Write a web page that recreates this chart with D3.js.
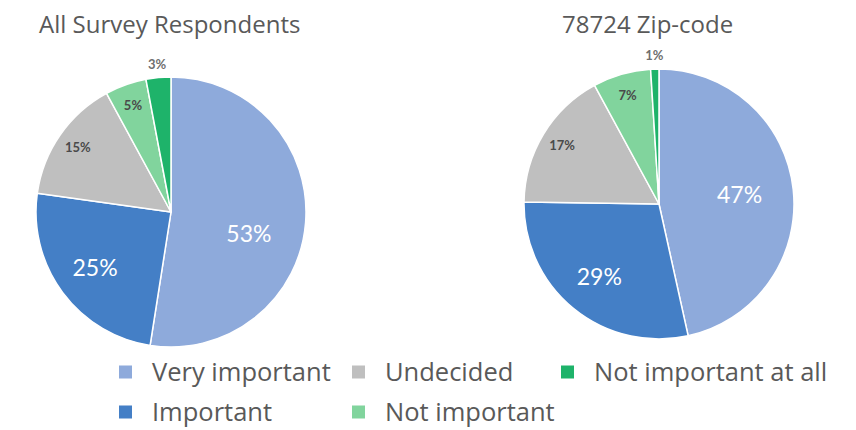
<!DOCTYPE html>
<html>
<head>
<meta charset="utf-8">
<script src="https://cdn.jsdelivr.net/npm/d3@7"></script>
<style>
  html, body { margin: 0; padding: 0; background: #fff; }
  svg { display: block; }
</style>
</head>
<body>
<svg id="chart" width="856" height="430"></svg>
<script>
// Response categories, in slice order (clockwise from 12 o'clock)
const categories = ["Very important", "Important", "Undecided", "Not important", "Not important at all"];
// Share of responses (%) for each group of respondents
const allRespondents = [53, 25, 15, 5, 3];
const zip78724 = [47, 29, 17, 7, 1];
const chartTitles = ["All Survey Respondents", "78724 Zip-code"];

const colors = d3.scaleOrdinal()
  .domain(categories)
  .range(["#8eaadb", "#447fc6", "#bfbfbf", "#81d49d", "#1eb36a"]);

const svg = d3.select("#chart");
const textColor = "#595959";

const pie = d3.pie().sort(null).value(d => d.value);
const radius = 135;
const arc = d3.arc().innerRadius(0).outerRadius(radius);

function drawPie(values, title, cx, cy, titleX) {
  const data = categories.map((c, i) => ({ category: c, value: values[i] }));
  const arcs = pie(data);

  svg.append("text")
    .attr("x", titleX)
    .attr("y", 33)
    .attr("font-family", "'Open Sans', sans-serif")
    .attr("font-size", 24)
    .attr("fill", textColor)
    .text(title);

  const g = svg.append("g").attr("transform", `translate(${cx},${cy})`);

  g.selectAll("path")
    .data(arcs)
    .join("path")
    .attr("d", arc)
    .attr("fill", d => colors(d.data.category))
    .attr("stroke", "#fff")
    .attr("stroke-width", 1.5)
    .attr("stroke-linejoin", "round");

  // Label placement: big slices get large white text, small slices
  // get small dark text near the rim, tiny slices sit just outside.
  g.selectAll("text.value")
    .data(arcs)
    .join("text")
    .attr("class", "value")
    .attr("transform", d => {
      const v = d.data.value;
      const f = v >= 40 ? 0.6 : v >= 20 ? 0.7 : v >= 4 ? 0.84 : 1.1;
      // nudge the largest labels a little further round the slice
      const a = (d.startAngle + d.endAngle) / 2 + (v >= 50 ? 0.2 : 0);
      return `translate(${Math.sin(a) * radius * f},${-Math.cos(a) * radius * f})`;
    })
    .attr("text-anchor", "middle")
    .attr("dy", "0.35em")
    .attr("font-family", "Lato, 'Open Sans', sans-serif")
    .attr("font-size", d => d.data.value >= 20 ? 23 : 13)
    .attr("font-weight", d => d.data.value >= 20 ? 400 : 700)
    .attr("fill", d => d.data.value >= 20 ? "#ffffff" : d.data.value >= 4 ? "#4a4a4a" : "#6f6f6f")
    .text(d => d.data.value + "%");
}

drawPie(allRespondents, chartTitles[0], 171, 212, 39);
drawPie(zip78724, chartTitles[1], 659, 204, 562);

// Legend: entries flow down two rows, then across columns
const legendCols = [119, 352, 561];
const legendRows = [372, 412];
const legend = svg.append("g")
  .selectAll("g")
  .data(categories)
  .join("g")
  .attr("transform", (d, i) => `translate(${legendCols[Math.floor(i / 2)]},${legendRows[i % 2]})`);

legend.append("rect")
  .attr("x", 0)
  .attr("y", -6.5)
  .attr("width", 13)
  .attr("height", 13)
  .attr("fill", d => colors(d));

legend.append("text")
  .attr("x", 33)
  .attr("y", 9)
  .attr("font-family", "'Open Sans', sans-serif")
  .attr("font-size", 25.5)
  .attr("fill", textColor)
  .text(d => d);
</script>
</body>
</html>
